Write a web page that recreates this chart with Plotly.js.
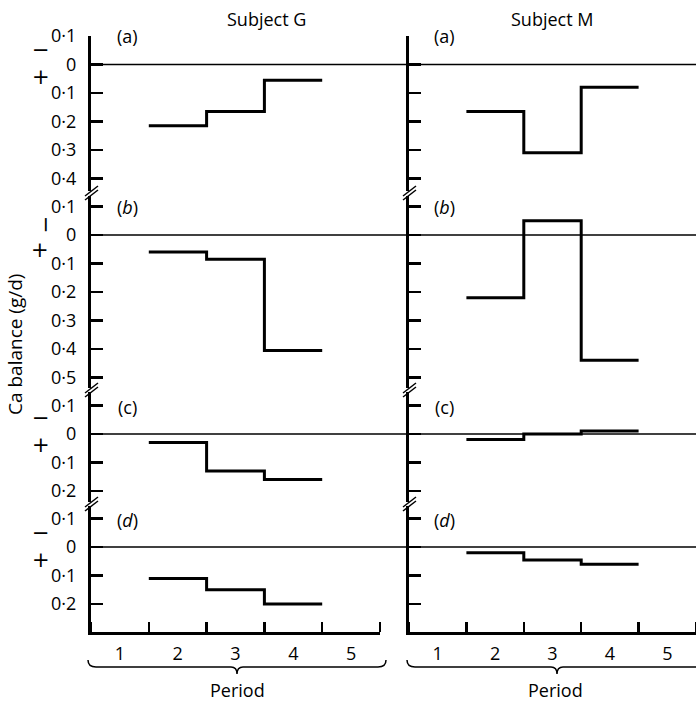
<!DOCTYPE html>
<html>
<head>
<meta charset="utf-8">
<script src="https://cdn.plot.ly/plotly-3.0.1.min.js"></script>
<style>html,body{margin:0;padding:0;background:#fff;}</style>
</head>
<body>
<div id="chart" style="width:696px;height:701px;"></div>
<script>
// ---- data ----
const periods = [2, 3, 4];
const periodLabels = ['1', '2', '3', '4', '5'];
const G_a = [0.215, 0.165, 0.055];
const M_a = [0.165, 0.31, 0.08];
const G_b = [0.06, 0.085, 0.405];
const M_b = [0.22, -0.05, 0.44];
const G_c = [0.03, 0.13, 0.16];
const M_c = [0.02, 0.0, -0.01];
const G_d = [0.11, 0.15, 0.2];
const M_d = [0.02, 0.045, 0.06];
const ticks_a = [-0.1, 0, 0.1, 0.2, 0.3, 0.4];
const ticks_b = [-0.1, 0, 0.1, 0.2, 0.3, 0.4, 0.5];
const ticks_c = [-0.1, 0, 0.1, 0.2];
const ticks_d = [-0.1, 0, 0.1, 0.2];
const tickText = v => v === 0 ? '0' : Math.abs(v).toFixed(1).replace('.', '·');

// ---- geometry helpers ----
const W = 696, H = 701;
const px = x => x / W;
const py = y => 1 - y / H;
const FONT = '"Open Sans", Lato, sans-serif';
const FS = 18;

function stepTrace(vals, xa, ya) {
  const xs = periods.map(p => p - 0.5).concat([periods[periods.length - 1] + 0.5]);
  const ys = vals.concat([vals[vals.length - 1]]);
  return {x: xs, y: ys, xaxis: xa, yaxis: ya, type: 'scatter', mode: 'lines',
          line: {shape: 'hv', color: '#000', width: 3}, hoverinfo: 'skip'};
}

const data = [
  stepTrace(G_a, 'x', 'y'), stepTrace(G_b, 'x', 'y2'), stepTrace(G_c, 'x', 'y3'), stepTrace(G_d, 'x', 'y4'),
  stepTrace(M_a, 'x2', 'y5'), stepTrace(M_b, 'x2', 'y6'), stepTrace(M_c, 'x2', 'y7'), stepTrace(M_d, 'x2', 'y8')
];

// row pixel extents [bottom, top] and ranges [bottom value, top value]
const rows = [
  {dom: [191, 36], range: [0.444, -0.1], ticks: ticks_a},
  {dom: [388, 196], range: [0.537, -0.137], ticks: ticks_b},
  {dom: [502, 392], range: [0.239, -0.147], ticks: ticks_c},
  {dom: [632, 506], range: [0.298, -0.144], ticks: ticks_d}
];

function yax(row, anchor, labels) {
  return {
    domain: [py(row.dom[0]), py(row.dom[1])], range: row.range, anchor: anchor,
    showline: true, linewidth: 3, linecolor: '#000', ticks: 'inside', ticklen: 12, tickwidth: 2.5,
    tickcolor: '#000', tickvals: row.ticks, ticktext: row.ticks.map(tickText),
    showticklabels: labels, ticklabelstandoff: 8,
    tickfont: {family: FONT, size: FS, color: '#000'}, showgrid: false, zeroline: false, fixedrange: true
  };
}
function xax(dom, anchor) {
  return {
    domain: dom, range: [0.5, 5.5], anchor: anchor, showline: true, linewidth: 3, linecolor: '#000',
    tickvals: [1, 2, 3, 4, 5], ticktext: periodLabels, ticks: '',
    minor: {tick0: 0.5, dtick: 1, ticks: 'inside', ticklen: 10, tickwidth: 2.5, tickcolor: '#000', showgrid: false},
    tickfont: {family: FONT, size: FS, color: '#000'}, ticklabelstandoff: 3,
    showgrid: false, zeroline: false, fixedrange: true
  };
}

const layout = {
  width: W, height: H, margin: {l: 0, r: 0, t: 0, b: 0},
  paper_bgcolor: '#fff', plot_bgcolor: 'rgba(0,0,0,0)', showlegend: false,
  xaxis: xax([px(91), px(380)], 'y4'),
  xaxis2: xax([px(409), 1], 'y8'),
  yaxis: yax(rows[0], 'x', true), yaxis2: yax(rows[1], 'x', true),
  yaxis3: yax(rows[2], 'x', true), yaxis4: yax(rows[3], 'x', true),
  yaxis5: yax(rows[0], 'x2', false), yaxis6: yax(rows[1], 'x2', false),
  yaxis7: yax(rows[2], 'x2', false), yaxis8: yax(rows[3], 'x2', false),
  shapes: [], annotations: []
};

// zero lines across both panels
['y', 'y2', 'y3', 'y4'].forEach(ya => {
  layout.shapes.push({type: 'line', xref: 'paper', yref: ya, x0: px(91), x1: 1, y0: 0, y1: 0,
                      line: {color: '#000', width: 1.5}});
});

// axis break marks
[91, 409].forEach(ax => {
  [193, 390, 504].forEach(by => {
    [-2, 2].forEach(o => {
      layout.shapes.push({type: 'line', xref: 'paper', yref: 'paper',
        x0: px(ax - 6), y0: py(by + 5 + o), x1: px(ax + 7), y1: py(by - 5 + o),
        line: {color: '#000', width: 1.5}});
    });
  });
});

// braces under the period axes
function brace(x0, x1, tip, yTop) {
  const yb = yTop + 7, yt = yTop + 14;
  const P = (x, y) => px(x) + ',' + py(y);
  return {type: 'path', xref: 'paper', yref: 'paper', line: {color: '#000', width: 1.5},
    path: 'M' + P(x0, yTop) + ' Q' + P(x0, yb) + ' ' + P(x0 + 8, yb) +
          ' L' + P(tip - 6, yb) + ' Q' + P(tip, yb) + ' ' + P(tip, yt) +
          ' Q' + P(tip, yb) + ' ' + P(tip + 6, yb) +
          ' L' + P(x1 - 8, yb) + ' Q' + P(x1, yb) + ' ' + P(x1, yTop)};
}
layout.shapes.push(brace(88, 386, 237, 660));
layout.shapes.push(brace(407, 712, 557, 660));

function ann(text, x, y, size, opts) {
  return Object.assign({text: text, x: px(x), y: py(y), xref: 'paper', yref: 'paper', showarrow: false,
    xanchor: 'center', yanchor: 'middle', font: {family: FONT, size: size, color: '#000'}}, opts || {});
}
const A = layout.annotations;
A.push(ann('Subject G', 266, 19, FS));
A.push(ann('Subject M', 552, 19, FS));
A.push(ann('Ca balance (g/d)', 15, 345, 19, {textangle: -90}));
A.push(ann('Period', 237, 690, FS));
A.push(ann('Period', 555, 690, FS));
const rowLabels = ['(a)', '(<i>b</i>)', '(c)', '(<i>d</i>)'];
const rowLabelY = [36, 207, 407, 520];
rowLabels.forEach((t, i) => {
  A.push(ann(t, 127, rowLabelY[i], FS));
  A.push(ann(t, 444, rowLabelY[i], FS));
});
// sign markers (minus above, plus below)
const SIGNF = {family: '"DejaVu Sans", sans-serif', size: 21, color: '#000'};
[63, 432, 546].forEach(y => {
  A.push(ann('−<br>+', 41, y, 21, {font: SIGNF}));
});
A.push(ann('−', 46, 225, 21, {font: SIGNF, textangle: 90}));
A.push(ann('+', 40, 250, 21, {font: SIGNF}));

Plotly.newPlot('chart', data, layout, {staticPlot: true, displayModeBar: false});
</script>
</body>
</html>
